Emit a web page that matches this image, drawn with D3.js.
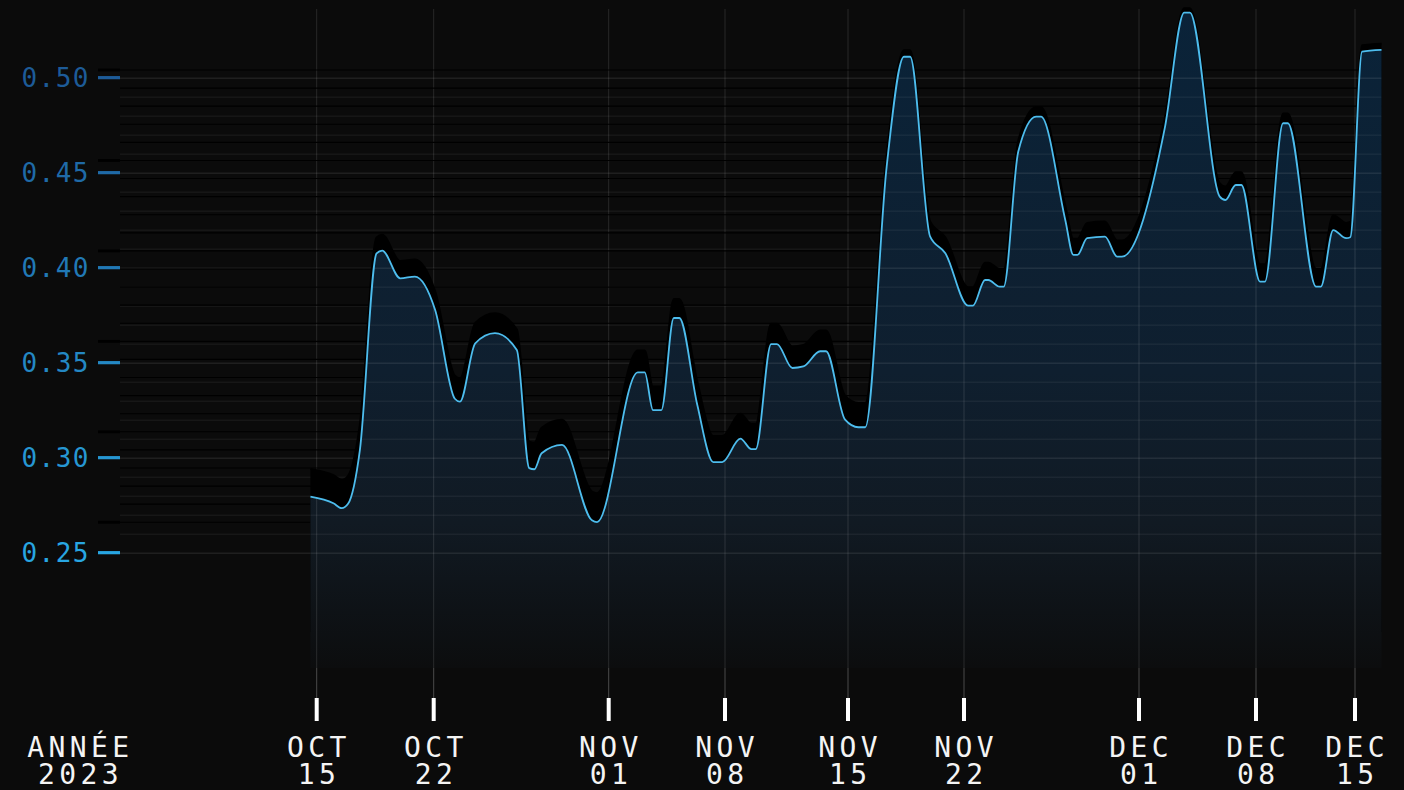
<!DOCTYPE html>
<html>
<head>
<meta charset="utf-8">
<script src="https://cdn.jsdelivr.net/npm/d3@7"></script>
<style>
  html, body { margin: 0; background: #0b0b0b; }
  svg { display: block; }
  text { font-family: "DejaVu Sans Mono", monospace; }
</style>
</head>
<body>
<div id="chart"></div>
<script>
// values (timestamps are irregular)
const dates = [
  "2023-10-14T15","2023-10-16T00","2023-10-16T12","2023-10-16T21","2023-10-17T14","2023-10-18T14","2023-10-18T22","2023-10-20T00","2023-10-20T21",
  "2023-10-22T02","2023-10-23T05","2023-10-23T12","2023-10-24T09","2023-10-25T12","2023-10-26T18","2023-10-27T11","2023-10-27T18","2023-10-28T04","2023-10-29T08","2023-10-31T01","2023-10-31T08",
  "2023-11-02T18","2023-11-03T04","2023-11-03T16","2023-11-04T04","2023-11-04T22","2023-11-05T06","2023-11-06T08","2023-11-07T07","2023-11-07T20",
  "2023-11-08T21","2023-11-09T12","2023-11-09T18","2023-11-10T15","2023-11-10T23","2023-11-11T20","2023-11-12T11","2023-11-13T10","2023-11-13T18","2023-11-14T20",
  "2023-11-15T15","2023-11-16T01","2023-11-17T08","2023-11-18T09","2023-11-18T18","2023-11-19T23","2023-11-20T21",
  "2023-11-22T05","2023-11-22T11","2023-11-23T02","2023-11-23T06","2023-11-23T20","2023-11-24T01","2023-11-24T19","2023-11-25T17","2023-11-25T23","2023-11-27T05","2023-11-27T15","2023-11-27T20","2023-11-28T08","2023-11-29T06","2023-11-29T21","2023-11-30T03",
  "2023-12-02T13","2023-12-03T17","2023-12-04T01","2023-12-05T20","2023-12-06T04","2023-12-06T19","2023-12-07T03",
  "2023-12-08T07","2023-12-08T15","2023-12-09T22","2023-12-10T06","2023-12-12T06","2023-12-12T14","2023-12-13T11","2023-12-14T09","2023-12-14T16","2023-12-15T12","2023-12-16T21"
];
const values = [
  0.2795,0.2760,0.2734,0.2757,0.3040,0.4075,0.4090,0.3944,0.3953,
  0.3777,0.3310,0.3295,0.3602,0.3655,0.3567,0.2945,0.2939,0.3023,0.3067,0.2670,0.2661,
  0.3449,0.3449,0.3250,0.3250,0.3735,0.3735,0.3277,0.2977,0.2977,
  0.3100,0.3045,0.3045,0.3598,0.3598,0.3472,0.3480,0.3560,0.3560,0.3200,
  0.3160,0.3160,0.4532,0.5110,0.5110,0.4163,0.4076,
  0.3800,0.3800,0.3935,0.3935,0.3900,0.3900,0.4611,0.4795,0.4795,0.4251,0.4067,0.4067,0.4155,0.4163,0.4058,0.4058,
  0.4734,0.5342,0.5342,0.4374,0.4356,0.4435,0.4435,
  0.3926,0.3926,0.4760,0.4760,0.3900,0.3900,0.4198,0.4155,0.4160,0.5137,0.5146
];
const tickDates = ["2023-10-15","2023-10-22","2023-11-01","2023-11-08","2023-11-15","2023-11-22","2023-12-01","2023-12-08","2023-12-15"];
const yTicks = [0.25, 0.30, 0.35, 0.40, 0.45, 0.50];
const yearLabel = ["ANNÉE", "2023"];

const W = 1404, H = 790;
const parseHour = d3.timeParse("%Y-%m-%dT%H");
const parseDay = d3.timeParse("%Y-%m-%d");

const data = dates.map((d, i) => ({date: parseHour(d), value: values[i]}));
const ticks = tickDates.map(parseDay);

// the axis spacing in the original is uneven, so the time scale is piecewise
const x = d3.scaleTime()
  .domain(ticks)
  .range([316.7, 433.7, 608.7, 725, 848, 964, 1139, 1256, 1355]);
const y = d3.scaleLinear().domain([0.1893, 0.5356]).range([668, 10]);

const gridLeft = 120, gridRight = x(data[data.length - 1].date);
const minor = d3.range(25, 51).map(d => d / 100);

const tickColor = d3.scaleLinear().domain([0.25, 0.50]).range(["#28a6e2", "#1d5b98"]);

const svg = d3.select("#chart").append("svg")
  .attr("width", W).attr("height", H);

svg.append("rect").attr("width", W).attr("height", H).attr("fill", "#0b0b0b");

const defs = svg.append("defs");
const grad = defs.append("linearGradient")
  .attr("id", "areaFill")
  .attr("gradientUnits", "userSpaceOnUse")
  .attr("x1", 0).attr("x2", 0).attr("y1", y.range()[1]).attr("y2", y.range()[0]);
grad.append("stop").attr("offset", "0%").attr("stop-color", "#0a2339");
grad.append("stop").attr("offset", "55%").attr("stop-color", "#0f1f2f");
grad.append("stop").attr("offset", "78%").attr("stop-color", "#111a23");
grad.append("stop").attr("offset", "100%").attr("stop-color", "#0c0d0e");

const area = d3.area()
  .x(d => x(d.date))
  .y0(y.range()[0])
  .y1(d => y(d.value))
  .curve(d3.curveMonotoneX);
const line = d3.line()
  .x(d => x(d.date))
  .y(d => y(d.value))
  .curve(d3.curveMonotoneX);

defs.append("clipPath").attr("id", "areaClip")
  .append("path").attr("d", area(data));

function drawGrid(g) {
  g.selectAll("line.h")
    .data(minor)
    .join("line")
    .attr("class", "h")
    .attr("x1", gridLeft).attr("x2", gridRight)
    .attr("y1", d => y(d) + 0.5).attr("y2", d => y(d) + 0.5)
    .attr("stroke", d => Math.round(d * 100) % 5 === 0 ? "rgba(255,255,255,0.13)" : "rgba(255,255,255,0.08)");
  g.selectAll("line.v")
    .data(ticks)
    .join("line")
    .attr("class", "v")
    .attr("x1", d => x(d)).attr("x2", d => x(d))
    .attr("y1", 9).attr("y2", y.range()[0])
    .attr("stroke", "rgba(255,255,255,0.12)");
}

// plain grid
drawGrid(svg.append("g"));

// black "shadow" copy of the plot, squeezed upward
const shadow = svg.append("g").attr("transform", "translate(0,-3.9) scale(1,0.952)");
shadow.selectAll("line.sh")
  .data(minor)
  .join("line")
  .attr("x1", gridLeft).attr("x2", gridRight)
  .attr("y1", d => y(d)).attr("y2", d => y(d))
  .attr("stroke", "#000").attr("stroke-width", 1.2);
shadow.selectAll("line.st")
  .data(yTicks)
  .join("line")
  .attr("x1", 98).attr("x2", gridLeft)
  .attr("y1", d => y(d)).attr("y2", d => y(d))
  .attr("stroke", "#000").attr("stroke-width", 3);
shadow.append("path")
  .attr("d", area(data))
  .attr("fill", "#000");
shadow.append("path")
  .attr("d", line(data))
  .attr("fill", "none")
  .attr("stroke", "#000")
  .attr("stroke-width", 2);

// filled area, then grid again seen through it
svg.append("path")
  .attr("d", area(data))
  .attr("fill", "url(#areaFill)");
drawGrid(svg.append("g").attr("clip-path", "url(#areaClip)"));

svg.append("path")
  .attr("d", line(data))
  .attr("fill", "none")
  .attr("stroke", "#4dbdee")
  .attr("stroke-width", 1.8)
  .attr("stroke-linejoin", "round");

// y axis
const yAxis = svg.append("g");
yAxis.selectAll("line")
  .data(yTicks)
  .join("line")
  .attr("x1", 98).attr("x2", gridLeft)
  .attr("y1", d => y(d)).attr("y2", d => y(d))
  .attr("stroke", d => tickColor(d))
  .attr("stroke-width", 3.2);
yAxis.selectAll("text")
  .data(yTicks)
  .join("text")
  .attr("x", 90)
  .attr("y", d => y(d) + 9)
  .attr("text-anchor", "end")
  .attr("font-size", 26)
  .attr("letter-spacing", 1.5)
  .attr("fill", d => tickColor(d))
  .text(d3.format(".2f"));

// x axis
const fmtMonth = d3.timeFormat("%b"), fmtDay = d3.timeFormat("%d");
const xAxis = svg.append("g");
xAxis.selectAll("line.stem")
  .data(ticks)
  .join("line")
  .attr("class", "stem")
  .attr("x1", d => x(d)).attr("x2", d => x(d))
  .attr("y1", 668).attr("y2", 698)
  .attr("stroke", "#4a4a4a");
xAxis.selectAll("line.tk")
  .data(ticks)
  .join("line")
  .attr("class", "tk")
  .attr("x1", d => x(d)).attr("x2", d => x(d))
  .attr("y1", 698).attr("y2", 721)
  .attr("stroke", "#fff")
  .attr("stroke-width", 4);
const lbl = xAxis.selectAll("text")
  .data(ticks)
  .join("text")
  .attr("text-anchor", "middle")
  .attr("font-size", 28)
  .attr("letter-spacing", 4.4)
  .attr("fill", "#f4f4f4");
lbl.append("tspan")
  .attr("x", d => x(d) + 2.2).attr("y", 757)
  .text(d => fmtMonth(d).toUpperCase());
lbl.append("tspan")
  .attr("x", d => x(d) + 2.2).attr("y", 784)
  .text(d => fmtDay(d));

svg.append("text")
  .attr("text-anchor", "middle")
  .attr("font-size", 28)
  .attr("letter-spacing", 4.4)
  .attr("fill", "#f4f4f4")
  .selectAll("tspan")
  .data(yearLabel)
  .join("tspan")
  .attr("x", 80.5)
  .attr("y", (d, i) => 757 + i * 27)
  .text(d => d);
</script>
</body>
</html>
